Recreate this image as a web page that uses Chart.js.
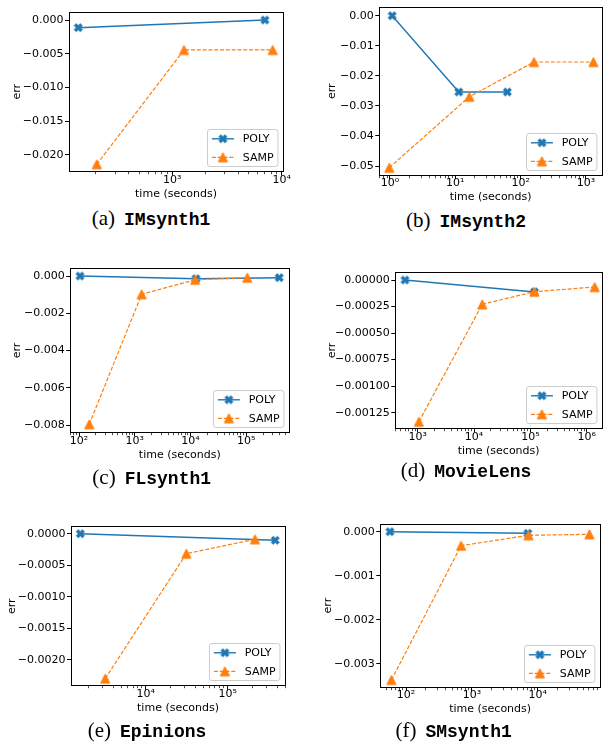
<!DOCTYPE html>
<html><head><meta charset="utf-8">
<script src="https://cdn.jsdelivr.net/npm/chart.js@4.4.1/dist/chart.umd.min.js"></script>
<style>
html,body{margin:0;padding:0;background:#fff;}
#fig{position:relative;width:603px;height:742px;overflow:hidden;background:#fff;}
#fig canvas{position:absolute;}
.cap{position:absolute;white-space:nowrap;transform:translate(-50%,-50%);line-height:1;color:#000;}
.cap .l{font-family:'Liberation Serif',serif;font-size:21px;}
.cap .n{font-family:'Liberation Mono',monospace;font-weight:bold;font-size:18px;margin-left:9px;}
</style></head><body><div id="fig"></div>
<script>
// ---------------- data ----------------
const seriesNames = ['POLY', 'SAMP'];
const panelLetters = ['(a)', '(b)', '(c)', '(d)', '(e)', '(f)'];
const panelNames = ['IMsynth1', 'IMsynth2', 'FLsynth1', 'MovieLens', 'Epinions', 'SMsynth1'];
const xAxisTitle = 'time (seconds)';
const yAxisTitle = 'err';

// (a) IMsynth1
const aPolyTime = [138, 7030];
const aPolyErr = [-0.00114, 0];
const aSampTime = [204, 1279, 8280];
const aSampErr = [-0.02143, -0.00445, -0.00445];
const aYTicks = [0, -0.005, -0.010, -0.015, -0.020];
const aYTickLabels = ['0.000', '\u22120.005', '\u22120.010', '\u22120.015', '\u22120.020'];
const aXTicks = [1e3, 1e4];
const aXTickLabels = ['10\u00b3', '10\u2074'];

// (b) IMsynth2
const bPolyTime = [1.08, 11.3, 62.5];
const bPolyErr = [0, -0.02537, -0.02537];
const bSampTime = [0.975, 16.4, 160, 1298];
const bSampErr = [-0.05055, -0.02694, -0.0154, -0.0154];
const bYTicks = [0, -0.01, -0.02, -0.03, -0.04, -0.05];
const bYTickLabels = ['0.00', '\u22120.01', '\u22120.02', '\u22120.03', '\u22120.04', '\u22120.05'];
const bXTicks = [1, 10, 100, 1000];
const bXTickLabels = ['10\u2070', '10\u00b9', '10\u00b2', '10\u00b3'];

// (c) FLsynth1
const cPolyTime = [104, 12500, 389000];
const cPolyErr = [0, -0.000145, -0.00009];
const cSampTime = [153, 1330, 12100, 104000];
const cSampErr = [-0.00796, -0.00098, -0.0002, -0.00009];
const cYTicks = [0, -0.002, -0.004, -0.006, -0.008];
const cYTickLabels = ['0.000', '\u22120.002', '\u22120.004', '\u22120.006', '\u22120.008'];
const cXTicks = [1e2, 1e3, 1e4, 1e5];
const cXTickLabels = ['10\u00b2', '10\u00b3', '10\u2074', '10\u2075'];

// (d) MovieLens
const dPolyTime = [594, 118000];
const dPolyErr = [0, -0.000113];
const dSampTime = [1050, 14000, 118000, 1390000];
const dSampErr = [-0.001335, -0.000229, -0.00011, -0.000066];
const dYTicks = [0, -0.00025, -0.0005, -0.00075, -0.001, -0.00125];
const dYTickLabels = ['0.00000', '\u22120.00025', '\u22120.00050', '\u22120.00075', '\u22120.00100', '\u22120.00125'];
const dXTicks = [1e3, 1e4, 1e5, 1e6];
const dXTickLabels = ['10\u00b3', '10\u2074', '10\u2075', '10\u2076'];

// (e) Epinions
const ePolyTime = [1592, 380000];
const ePolyErr = [0, -0.000105];
const eSampTime = [3210, 31300, 215000];
const eSampErr = [-0.0023, -0.000317, -0.0000889];
const eYTicks = [0, -0.0005, -0.001, -0.0015, -0.002];
const eYTickLabels = ['0.0000', '\u22120.0005', '\u22120.0010', '\u22120.0015', '\u22120.0020'];
const eXTicks = [1e4, 1e5];
const eXTickLabels = ['10\u2074', '10\u2075'];

// (f) SMsynth1
const fPolyTime = [57, 7080];
const fPolyErr = [0, -0.000036];
const fSampTime = [60, 686, 7230, 61000];
const fSampErr = [-0.003363, -0.000317, -0.0000816, -0.000059];
const fYTicks = [0, -0.001, -0.002, -0.003];
const fYTickLabels = ['0.000', '\u22120.001', '\u22120.002', '\u22120.003'];
const fXTicks = [1e2, 1e3, 1e4];
const fXTickLabels = ['10\u00b2', '10\u00b3', '10\u2074'];

const panelData = [
  {polyX: aPolyTime, polyY: aPolyErr, sampX: aSampTime, sampY: aSampErr, yTicks: aYTicks, yLabels: aYTickLabels, xTicks: aXTicks, xLabels: aXTickLabels},
  {polyX: bPolyTime, polyY: bPolyErr, sampX: bSampTime, sampY: bSampErr, yTicks: bYTicks, yLabels: bYTickLabels, xTicks: bXTicks, xLabels: bXTickLabels},
  {polyX: cPolyTime, polyY: cPolyErr, sampX: cSampTime, sampY: cSampErr, yTicks: cYTicks, yLabels: cYTickLabels, xTicks: cXTicks, xLabels: cXTickLabels},
  {polyX: dPolyTime, polyY: dPolyErr, sampX: dSampTime, sampY: dSampErr, yTicks: dYTicks, yLabels: dYTickLabels, xTicks: dXTicks, xLabels: dXTickLabels},
  {polyX: ePolyTime, polyY: ePolyErr, sampX: eSampTime, sampY: eSampErr, yTicks: eYTicks, yLabels: eYTickLabels, xTicks: eXTicks, xLabels: eXTickLabels},
  {polyX: fPolyTime, polyY: fPolyErr, sampX: fSampTime, sampY: fSampErr, yTicks: fYTicks, yLabels: fYTickLabels, xTicks: fXTicks, xLabels: fXTickLabels}
];

// ---------------- layout (page pixels) & axis limits ----------------
const frames = [
  {cx: 0,   cy: 0,   cw: 300, L: 69,    T: 12,    R: 283,   B: 171.5, xMin: 113.7, xMax: 10280,  yMin: -0.0225,   yMax: 0.00119,   errX: 16.7,  capX: 151,   capY: 218},
  {cx: 300, cy: 0,   cw: 303, L: 379.3, T: 7.5,   R: 602,   B: 175,   xMin: 0.686, xMax: 1758,   yMin: -0.05298,  yMax: 0.00273,   errX: 332.3, capX: 466,   capY: 220},
  {cx: 0,   cy: 240, cw: 300, L: 70.3,  T: 268.7, R: 289.3, B: 432.3, xMin: 69.8,  xMax: 590000, yMin: -0.00839,  yMax: 0.000392,  errX: 16.7,  capX: 151.7, capY: 476.7},
  {cx: 300, cy: 240, cw: 303, L: 395.3, T: 272.7, R: 602,   B: 428.3, xMin: 400,   xMax: 1.87e6, yMin: -0.001397, yMax: 0.0000688, errX: 331.7, capX: 466,   capY: 470},
  {cx: 0,   cy: 490, cw: 300, L: 71,    T: 526.7, R: 285,   B: 685.7, xMin: 1227,  xMax: 500000, yMin: -0.002413, yMax: 0.000111,  errX: 11.7,  capX: 147,   capY: 730},
  {cx: 300, cy: 490, cw: 303, L: 380.3, T: 524.3, R: 600,   B: 687,   xMin: 40.7,  xMax: 88300,  yMin: -0.003522, yMax: 0.000168,  errX: 328.3, capX: 453.7, capY: 730}
];

const BLUE = '#1f77b4';
const ORANGE = '#ff7f0e';
const FONT = '"DejaVu Sans", sans-serif';
const XAXIS_H = 32;

function markerCanvas(kind, color) {
  const c = document.createElement('canvas');
  c.width = 13; c.height = 13;
  const g = c.getContext('2d');
  g.translate(6.5, 6.5);
  g.fillStyle = color; g.strokeStyle = color; g.lineWidth = 1; g.lineJoin = 'miter';
  g.beginPath();
  if (kind === 'X') {
    const s = 8.6 / 6, r = Math.SQRT1_2;
    const pts = [[-1,-3],[-1,-1],[-3,-1],[-3,1],[-1,1],[-1,3],[1,3],[1,1],[3,1],[3,-1],[1,-1],[1,-3]];
    pts.forEach(([px, py], i) => {
      const X = (px - py) * r * s, Y = (px + py) * r * s;
      if (i) g.lineTo(X, Y); else g.moveTo(X, Y);
    });
  } else {
    const h = 4.6;
    g.moveTo(0, -h); g.lineTo(h, h); g.lineTo(-h, h);
  }
  g.closePath(); g.fill(); g.stroke();
  return c;
}
const xMarker = markerCanvas('X', BLUE);
const triMarker = markerCanvas('T', ORANGE);

const insideLegend = {
  id: 'insideLegend',
  afterDraw(chart) {
    const {ctx, chartArea: a} = chart;
    const items = chart.data.datasets;
    ctx.save();
    ctx.font = '11px ' + FONT;
    const tw = Math.max(...items.map(d => ctx.measureText(d.label).width));
    const pad = 4.4, hl = 22, hp = 8.8, pitch = 18.5;
    const w = pad + hl + hp + tw + pad, h = 37;
    const x0 = Math.round(a.right - 5.5 - w) + 0.5, y0 = Math.round(a.bottom - 5.5 - h) + 0.5;
    ctx.beginPath();
    if (ctx.roundRect) ctx.roundRect(x0, y0, w, h, 2.5); else ctx.rect(x0, y0, w, h);
    ctx.fillStyle = 'rgba(255,255,255,0.8)';
    ctx.fill();
    ctx.strokeStyle = '#cccccc'; ctx.lineWidth = 1;
    ctx.stroke();
    items.forEach((d, i) => {
      const yy = y0 + 9.3 + i * pitch;
      ctx.save();
      ctx.strokeStyle = d.borderColor; ctx.lineWidth = d.borderWidth;
      ctx.setLineDash(d.borderDash || []);
      ctx.beginPath(); ctx.moveTo(x0 + pad, yy); ctx.lineTo(x0 + pad + hl, yy); ctx.stroke();
      ctx.restore();
      ctx.drawImage(d.pointStyle, x0 + pad + hl / 2 - 6.5, yy - 6.5);
      ctx.fillStyle = '#000'; ctx.textBaseline = 'middle'; ctx.textAlign = 'left';
      ctx.fillText(d.label, x0 + pad + hl + hp, yy + 0.5);
    });
    ctx.restore();
  }
};

Chart.defaults.font.family = FONT;
Chart.defaults.font.size = 11;
Chart.defaults.color = '#000';

const fig = document.getElementById('fig');

panelData.forEach((p, k) => {
  const f = frames[k];
  const ch = Math.ceil(f.B - f.cy + XAXIS_H);
  const cv = document.createElement('canvas');
  cv.width = f.cw; cv.height = ch;
  cv.style.left = f.cx + 'px'; cv.style.top = f.cy + 'px';
  cv.style.width = f.cw + 'px'; cv.style.height = ch + 'px';
  fig.appendChild(cv);

  const xTickLen = 4;
  const spine = {display: true, color: '#000', width: 1};
  new Chart(cv, {
    type: 'scatter',
    data: {
      datasets: [
        {label: seriesNames[0], data: p.polyX.map((x, i) => ({x, y: p.polyY[i]})), showLine: true,
         borderColor: BLUE, backgroundColor: BLUE, borderWidth: 1.4, pointStyle: xMarker, pointRadius: 5, order: 1, tension: 0},
        {label: seriesNames[1], data: p.sampX.map((x, i) => ({x, y: p.sampY[i]})), showLine: true,
         borderColor: ORANGE, backgroundColor: ORANGE, borderWidth: 1.2, borderDash: [4, 1.8], pointStyle: triMarker, pointRadius: 5, order: 0, tension: 0}
      ]
    },
    options: {
      responsive: false, animation: false, devicePixelRatio: 1, events: [],
      layout: {autoPadding: false, padding: {left: 0, top: f.T - f.cy, right: f.cx + f.cw - f.R, bottom: ch - (f.B - f.cy) - XAXIS_H}},
      plugins: {legend: {display: false}, tooltip: {enabled: false}},
      scales: {
        x: {
          type: 'logarithmic', position: 'bottom', min: f.xMin, max: f.xMax, bounds: 'data',
          border: spine,
          grid: {display: true, drawOnChartArea: false, drawTicks: true, tickLength: xTickLen,
                 tickColor: '#000',
                 tickWidth: c => (c.tick && c.tick.major) ? 1 : 0.7,
                 tickBorderDash: c => (c.tick && c.tick.major) ? [] : [2.2, 10]},
          ticks: {autoSkip: false, maxRotation: 0, minRotation: 0, padding: 8.5 - xTickLen - 6.6, color: '#000',
                  font: {size: 11, family: FONT},
                  callback: v => { const j = p.xTicks.findIndex(t => Math.abs(t - v) / t < 1e-6); return j >= 0 ? p.xLabels[j] : ''; }},
          title: {display: true, text: xAxisTitle, color: '#000', font: {size: 11, family: FONT},
                  padding: {top: 0, bottom: XAXIS_H - 6.6 - 22.5}},
          afterBuildTicks: axis => {
            const t = [];
            for (let e = Math.floor(Math.log10(f.xMin)); e <= Math.ceil(Math.log10(f.xMax)); e++) {
              for (let m = 1; m <= 9; m++) {
                const v = Number((m * Math.pow(10, e)).toPrecision(6));
                if (v >= f.xMin && v <= f.xMax) t.push({value: v, major: m === 1});
              }
            }
            axis.ticks = t;
          },
          afterFit: s => { s.height = XAXIS_H; s.paddingLeft = 0; s.paddingRight = 0; }
        },
        y: {
          type: 'linear', position: 'left', min: f.yMin, max: f.yMax, bounds: 'data',
          border: spine,
          grid: {display: true, drawOnChartArea: false, drawTicks: true, tickLength: 4, tickColor: '#000', tickWidth: 1},
          ticks: {padding: 1.5, color: '#000', font: {size: 11, family: FONT}, autoSkip: false,
                  callback: (v, i) => p.yLabels[i]},
          title: {display: true, text: yAxisTitle, color: '#000', font: {size: 11, family: FONT},
                  padding: {top: f.errX - f.cx - 6.6, bottom: 0}},
          afterBuildTicks: axis => { axis.ticks = p.yTicks.map(v => ({value: v})); },
          afterFit: s => { s.width = f.L - f.cx; s.paddingTop = 0; s.paddingBottom = 0; }
        },
        x2: {
          type: 'linear', position: 'top', display: true, border: spine,
          grid: {display: true, drawOnChartArea: false, drawTicks: false},
          ticks: {display: false},
          afterFit: s => { s.height = 0; s.paddingLeft = 0; s.paddingRight = 0; }
        },
        y2: {
          type: 'linear', position: 'right', display: true, border: spine,
          grid: {display: true, drawOnChartArea: false, drawTicks: false},
          ticks: {display: false},
          afterFit: s => { s.width = 0; s.paddingTop = 0; s.paddingBottom = 0; }
        }
      }
    },
    plugins: [insideLegend]
  });

  const cap = document.createElement('div');
  cap.className = 'cap';
  cap.style.left = f.capX + 'px'; cap.style.top = f.capY + 'px';
  const l = document.createElement('span'); l.className = 'l'; l.textContent = panelLetters[k];
  const n = document.createElement('span'); n.className = 'n'; n.textContent = panelNames[k];
  cap.appendChild(l); cap.appendChild(n);
  fig.appendChild(cap);
});
</script></body></html>
